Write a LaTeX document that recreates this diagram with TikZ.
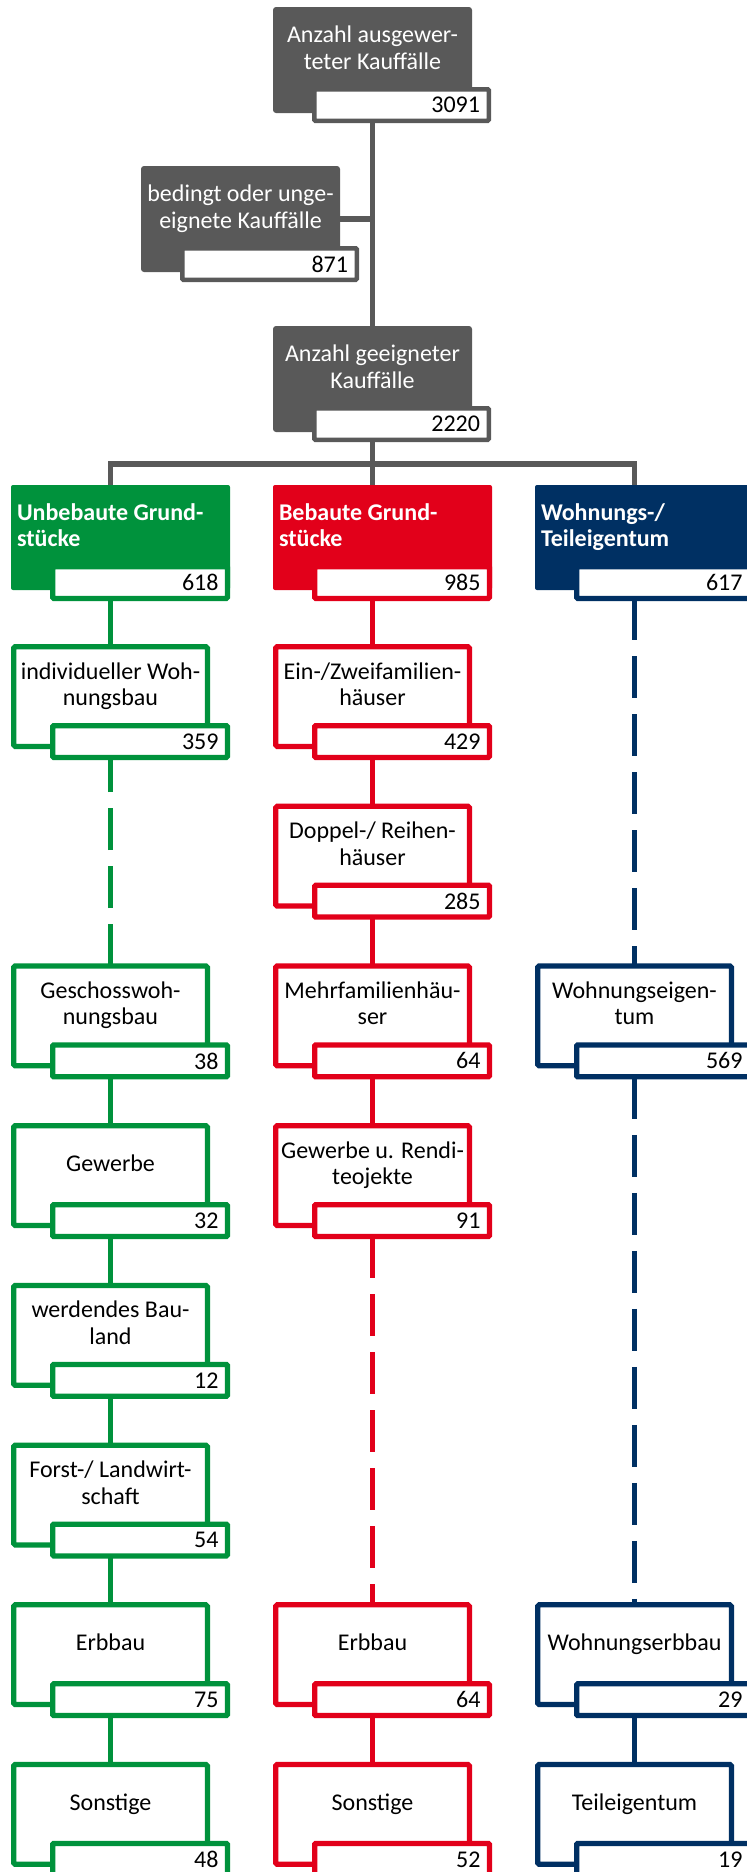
\documentclass[tikz,border=0pt]{standalone}
\usepackage{fontspec}
\setmainfont{Carlito}
\definecolor{cgreen}{RGB}{0,146,60}
\definecolor{cred}{RGB}{226,0,26}
\definecolor{cblue}{RGB}{0,48,99}
\definecolor{cgray}{RGB}{89,89,89}
\tikzset{
  every node/.style={inner sep=0pt, outer sep=0pt},
  lbl/.style={font=\fontsize{24}{26.5}\selectfont, align=center},
  hlbl/.style={font=\fontsize{24}{26.5}\selectfont\bfseries, align=left, text=white, anchor=west},
  mainbox/.style={draw=#1, line width=5.25pt, fill=white, rounded corners=1.5pt, minimum width=193.75pt, minimum height=99.75pt, anchor=north west},
  numbox/.style={draw=#1, line width=5.25pt, fill=white, rounded corners=1pt, minimum width=174.75pt, minimum height=31.75pt, text width=157pt, align=right, anchor=north west, font=\fontsize{24}{26.5}\selectfont},
  hdrbox/.style={fill=#1, rounded corners=2pt, minimum width=219pt, minimum height=105pt, anchor=north west},
  graybox/.style={fill=cgray, rounded corners=3pt, minimum width=199pt, minimum height=106pt, anchor=north west},
  conn/.style={draw=#1, line width=5.25pt},
  dconn/.style={draw=#1, line width=5.25pt, dash pattern=on 42pt off 16pt},
}
% name, L, T, color, text, number
\newcommand\obox[6]{%
  \node[mainbox=#4] (#1) at ({#2+2.625},{#3+2.625}) {};
  \node[lbl] (#1-t) at ({#2+99.5},{#3+43}) {#5};
  \node[numbox=#4] (#1-n) at ({#2+41.625},{#3+81.625}) {#6};
}
\newcommand\hdr[6]{%
  \node[hdrbox=#4] (#1) at (#2,#3) {};
  \node[hlbl] (#1-t) at ({#2+6},{#3+43}) {#5};
  \node[numbox=#4] (#1-n) at ({#2+41.625},{#3+81.625}) {#6};
}
% name, L, T, text, number
\newcommand\gbox[5]{%
  \node[graybox] (#1) at (#2,#3) {};
  \node[lbl, text=white] (#1-t) at ({#2+99.5},{#3+43.5}) {#4};
  \node[numbox=cgray, line width=4.5pt, minimum width=174.5pt, minimum height=31.5pt] (#1-n) at ({#2+41.25},{#3+82.25}) {#5};
}
\begin{document}
\begin{tikzpicture}[x=1pt, y=-1pt]
\useasboundingbox (0,0) rectangle (747,1872);
\fill[white] (0,0) rectangle (747,1872);
\clip (0,0) rectangle (747,1872);

% gray boxes
\gbox{top}{273}{7}{\strut Anzahl ausgewer-\\\strut teter Kauffälle}{3091}
\gbox{bed}{141}{166}{\strut bedingt oder unge-\\\strut eignete Kauffälle}{871}
\gbox{gee}{273}{326}{\strut Anzahl geeigneter\\\strut Kauffälle}{2220}

% headers
\hdr{ug}{11}{485}{cgreen}{\strut Unbebaute Grund-\\\strut stücke}{618}
\hdr{ub}{273}{485}{cred}{\strut Bebaute Grund-\\\strut stücke}{985}
\hdr{wt}{535}{485}{cblue}{\strut Wohnungs-/\\\strut Teileigentum}{617}

% green column
\obox{g0}{11}{644}{cgreen}{\strut individueller Woh-\\\strut nungsbau}{359}
\obox{g2}{11}{963.4}{cgreen}{\strut Geschosswoh-\\\strut nungsbau}{38}
\obox{g3}{11}{1123.1}{cgreen}{\strut Gewerbe}{32}
\obox{g4}{11}{1282.8}{cgreen}{\strut werdendes Bau-\\\strut land}{12}
\obox{g5}{11}{1442.5}{cgreen}{\strut Forst-/ Landwirt-\\\strut schaft}{54}
\obox{g6}{11}{1602.2}{cgreen}{\strut Erbbau}{75}
\obox{g7}{11}{1761.9}{cgreen}{\strut Sonstige}{48}

% red column
\obox{r0}{273}{644}{cred}{\strut Ein-/Zweifamilien-\\\strut häuser}{429}
\obox{r1}{273}{803.7}{cred}{\strut Doppel-/ Reihen-\\\strut häuser}{285}
\obox{r2}{273}{963.4}{cred}{\strut Mehrfamilienhäu-\\\strut ser}{64}
\obox{r3}{273}{1123.1}{cred}{\strut Gewerbe u. Rendi-\\\strut teojekte}{91}
\obox{r6}{273}{1602.2}{cred}{\strut Erbbau}{64}
\obox{r7}{273}{1761.9}{cred}{\strut Sonstige}{52}

% blue column
\obox{b2}{535}{963.4}{cblue}{\strut Wohnungseigen-\\\strut tum}{569}
\obox{b6}{535}{1602.2}{cblue}{\strut Wohnungserbbau}{29}
\obox{b7}{535}{1761.9}{cblue}{\strut Teileigentum}{19}

% gray connectors
\coordinate (bus) at (372.5,464);
\draw[conn=cgray] (top-n.south -| top.south) -- (gee.north);
\draw[conn=cgray] (bed.east) -- (bed.east -| gee.north);
\draw[conn=cgray] (gee-n.south -| gee.south) -- (bus);
\draw[conn=cgray] ([xshift=99.5pt]ug.north west) |- (bus) -| ([xshift=99.5pt]wt.north west);
\draw[conn=cgray] (bus) -- ([xshift=99.5pt]ub.north west);

% green connectors
\draw[conn=cgreen] (ug-n.south -| g0.north) -- (g0.north);
\draw[dconn=cgreen] (g2.north) -- (g0-n.south -| g2.north);
\draw[conn=cgreen] (g2-n.south -| g3.north) -- (g3.north);
\draw[conn=cgreen] (g3-n.south -| g4.north) -- (g4.north);
\draw[conn=cgreen] (g4-n.south -| g5.north) -- (g5.north);
\draw[conn=cgreen] (g5-n.south -| g6.north) -- (g6.north);
\draw[conn=cgreen] (g6-n.south -| g7.north) -- (g7.north);

% red connectors
\draw[conn=cred] (ub-n.south -| r0.north) -- (r0.north);
\draw[conn=cred] (r0-n.south -| r1.north) -- (r1.north);
\draw[conn=cred] (r1-n.south -| r2.north) -- (r2.north);
\draw[conn=cred] (r2-n.south -| r3.north) -- (r3.north);
\draw[dconn=cred] (r3-n.south -| r6.north) -- (r6.north);
\draw[conn=cred] (r6-n.south -| r7.north) -- (r7.north);

% blue connectors
\draw[dconn=cblue] (wt-n.south -| b2.north) -- (b2.north);
\draw[dconn=cblue] (b2-n.south -| b6.north) -- (b6.north);
\draw[conn=cblue] (b6-n.south -| b7.north) -- (b7.north);
\end{tikzpicture}
\end{document}
